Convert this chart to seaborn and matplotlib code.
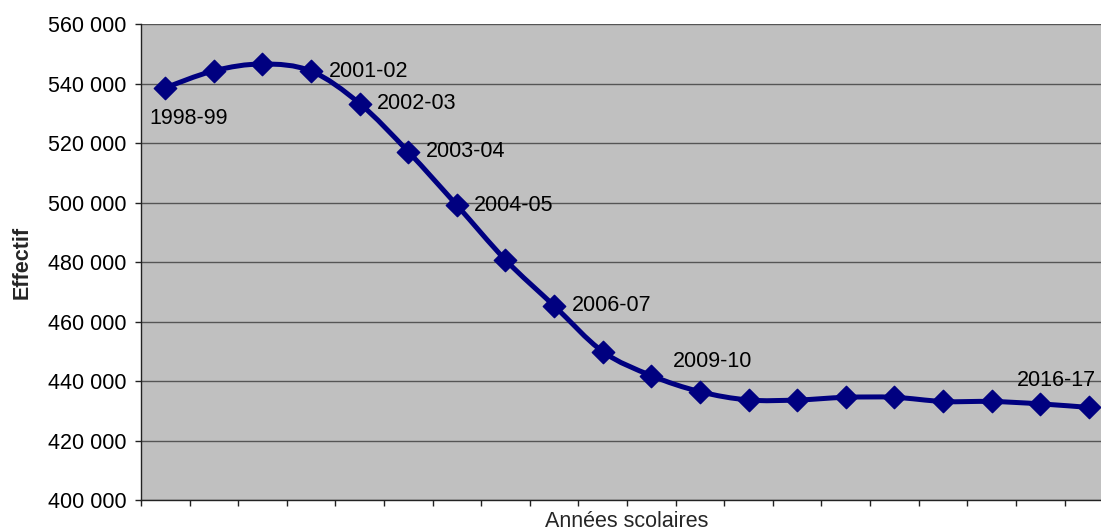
import numpy as np
import pandas as pd
import matplotlib
matplotlib.use('Agg')
import matplotlib.pyplot as plt
from matplotlib.path import Path
from matplotlib.patches import PathPatch
from matplotlib.ticker import FuncFormatter, MultipleLocator
import seaborn as sns

# ── données ───────────────────────────────────────────────
annees = ['1998-99', '1999-00', '2000-01', '2001-02', '2002-03', '2003-04',
          '2004-05', '2005-06', '2006-07', '2007-08', '2008-09', '2009-10',
          '2010-11', '2011-12', '2012-13', '2013-14', '2014-15', '2015-16',
          '2016-17', '2017-18']
effectifs = [538700, 544400, 546700, 544300, 533400, 517200, 499200, 480800,
             465400, 450000, 441900, 436500, 433700, 433700, 434600, 434600,
             433200, 433200, 432400, 431200]
annees_etiquetees = ['1998-99', '2001-02', '2002-03', '2003-04', '2004-05',
                     '2006-07', '2009-10', '2016-17']

NAVY = '#000080'
FS = 15.5
df = pd.DataFrame({'annee': annees, 'effectif': effectifs})
df['pos'] = np.arange(len(df))

sns.set_theme(style='white')
plt.rcParams['font.family'] = ['Liberation Sans', 'DejaVu Sans']

fig = plt.figure(figsize=(11.01, 5.31), dpi=100)
# la zone de tracé déborde à droite, comme dans l'original
ax = fig.add_axes([0.128, 0.058, 0.883, 0.896])
ax.set_facecolor('#C0C0C0')

# courbe lissée (Bézier à travers les points, comme un graphique Excel)
pts = df[['pos', 'effectif']].to_numpy(dtype=float)
n = len(pts)
verts = [pts[0]]
codes = [Path.MOVETO]
for i in range(n - 1):
    p_prev = pts[i - 1] if i > 0 else pts[i]
    p_next = pts[i + 2] if i + 2 < n else pts[i + 1]
    c1 = pts[i] + (pts[i + 1] - p_prev) / 6
    c2 = pts[i + 1] - (p_next - pts[i]) / 6
    verts += [c1, c2, pts[i + 1]]
    codes += [Path.CURVE4] * 3
ax.add_patch(PathPatch(Path(verts, codes), facecolor='none', edgecolor=NAVY,
                       linewidth=3.6, zorder=3, capstyle='round', joinstyle='round'))

sns.scatterplot(data=df, x='pos', y='effectif', ax=ax, marker='D', s=130,
                color=NAVY, edgecolor=NAVY, linewidth=1, zorder=4, legend=False)

# étiquettes de données
decalages = {'1998-99': (17, -22, 'center'), '2001-02': (12.5, 0, 'left'),
             '2002-03': (12.5, 0, 'left'), '2003-04': (12.5, 0, 'left'),
             '2004-05': (12.5, 0, 'left'), '2006-07': (12.5, 0, 'left'),
             '2009-10': (9, 22, 'center'), '2016-17': (12, 17, 'center')}
for _, row in df[df['annee'].isin(annees_etiquetees)].iterrows():
    dx, dy, ha = decalages[row['annee']]
    ax.annotate(row['annee'], (row['pos'], row['effectif']), xytext=(dx, dy),
                textcoords='offset points', ha=ha, va='center', fontsize=FS,
                color='black', zorder=5)

# axes
ax.set_xlim(-0.5, n - 0.5)
ax.set_ylim(400000, 560000)
ax.yaxis.set_major_locator(MultipleLocator(20000))
ax.yaxis.set_major_formatter(FuncFormatter(lambda v, p: f'{int(v):,}'.replace(',', ' ')))
ax.set_xticks(np.arange(-0.5, n, 1.0))
ax.set_xticklabels([])
ax.grid(axis='y', color='#555555', linewidth=1)
ax.grid(axis='x', visible=False)
ax.set_axisbelow(True)
for s in ['top', 'right']:
    ax.spines[s].set_visible(False)
for s in ['left', 'bottom']:
    ax.spines[s].set_color('#222222')
    ax.spines[s].set_linewidth(1)
ax.tick_params(axis='both', direction='out', length=4.5, width=1, color='#222222',
               labelsize=FS, labelcolor='black', bottom=True, left=True)
ax.tick_params(axis='y', pad=6)
ax.set_xlabel('Années scolaires', fontsize=FS, labelpad=0)
ax.set_ylabel('Effectif', fontsize=FS, fontweight='bold', labelpad=11)

fig.savefig('out.png', dpi=100)
